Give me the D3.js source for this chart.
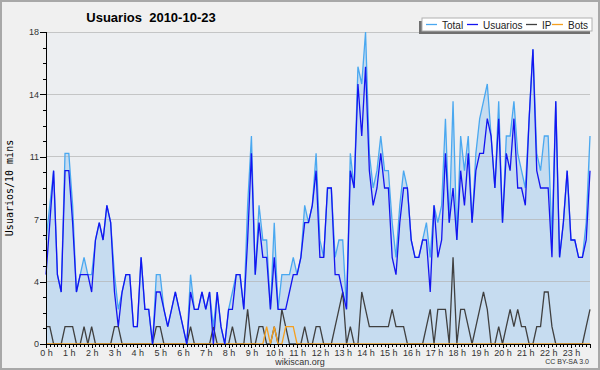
<!DOCTYPE html>
<html>
<head>
<meta charset="utf-8">
<script src="https://cdn.jsdelivr.net/npm/d3@7"></script>
<style>
    body { margin: 0; background: #f0f0f0; }
    svg { display: block; font-family: "Liberation Sans", Arial, sans-serif; }
    .axis path, .axis line { stroke: #000; shape-rendering: crispEdges; }
    .axis text { font-size: 9px; fill: #333; }
</style>
</head>
<body>
<svg width="600" height="370"></svg>
<script>
// one value every 10 minutes, 0h00 .. 23h50
const total    = [6,8,10,4,3,11,11,8,3,4,5,4,4,6,7,6,8,7,4,2,
                  3,4,4,1,1,5,2,2,0,4,4,2,1,2,3,2,1,0,4,2,
                  2,3,2,3,1,3,1,0,2,3,4,4,2,8,12,4,8,6,6,2,
                  7,2,4,4,4,5,4,5,8,7,8,11,6,5,9,9,5,6,6,2,
                  11,9,16,15,18,11,9,10,12,10,10,7,5,8,10,9,6,5,5,6,
                  7,5,8,7,8,13,7,14,6,12,10,12,7,11,13,14,15,12,9,14,
                  7,12,12,14,11,10,9,13,17,11,10,12,12,6,14,5,7,10,6,6,
                  5,5,7,12];
const usuarios = [4,7,10,4,3,10,10,7,3,4,4,4,3,6,7,6,8,7,3,1,
                  3,4,4,1,1,5,2,2,0,3,3,2,1,2,3,2,1,0,3,2,
                  2,3,2,3,0,3,1,0,2,2,4,4,2,6,11,4,7,5,5,2,
                  5,2,2,2,3,4,4,5,7,7,8,10,5,5,9,9,4,4,3,2,
                  10,9,15,12,16,10,8,9,11,9,9,5,4,7,9,9,6,5,5,6,
                  6,3,8,5,6,11,7,9,6,10,8,11,7,10,11,11,13,12,9,13,
                  7,11,10,13,9,9,8,13,17,10,9,9,9,5,14,5,7,10,6,6,
                  5,5,6,10];
const ip       = [1,1,0,0,0,1,1,1,0,0,1,0,1,0,0,0,0,0,1,1,
                  0,0,0,0,0,0,0,0,0,1,1,0,0,0,0,0,0,0,1,0,
                  0,0,0,0,1,0,0,0,0,1,0,0,0,2,0,0,1,1,0,0,
                  1,0,2,1,0,0,0,0,1,0,0,1,1,0,0,0,1,2,3,0,
                  1,0,0,3,2,1,1,1,1,1,1,2,1,1,1,0,0,0,0,0,
                  1,2,0,2,2,2,0,5,0,2,2,1,0,1,2,3,2,0,0,1,
                  0,1,2,1,2,1,1,0,0,1,1,3,3,1,0,0,0,0,0,0,
                  0,0,1,2];
const bots     = [0,0,0,0,0,0,0,0,0,0,0,0,0,0,0,0,0,0,0,0,
                  0,0,0,0,0,0,0,0,0,0,0,0,0,0,0,0,0,0,0,0,
                  0,0,0,0,0,0,0,0,0,0,0,0,0,0,0,0,0,0,1,0,
                  1,0,0,1,1,1,0,0,0,0,0,0,0,0,0,0,0,0,0,0,
                  0,0,0,0,0,0,0,0,0,0,0,0,0,0,0,0,0,0,0,0,
                  0,0,0,0,0,0,0,0,0,0,0,0,0,0,0,0,0,0,0,0,
                  0,0,0,0,0,0,0,0,0,0,0,0,0,0,0,0,0,0,0,0,
                  0,0,0,0];
const hours = d3.range(24);
const yTicks = [0, 3.6, 7.2, 10.8, 14.4, 18];

const series = [
    {name: "Total",    values: total,    color: "#4aa8f0"},
    {name: "Usuarios", values: usuarios, color: "#1414f0"},
    {name: "IP",       values: ip,       color: "#404040"},
    {name: "Bots",     values: bots,     color: "#f5a020"}
];

const svg = d3.select("svg");
const plotL = 46, plotR = 590, plotT = 32, plotB = 344;

const x = d3.scaleLinear().domain([0, total.length - 1]).range([plotL, plotR]);
const y = d3.scaleLinear().domain([0, 18]).range([plotB, plotT]);

// frame
svg.append("rect")
    .attr("x", 1).attr("y", 1).attr("width", 598).attr("height", 368)
    .attr("fill", "#f0f0f0").attr("stroke", "#a8a8a8").attr("stroke-width", 2);
svg.append("rect")
    .attr("x", plotL).attr("y", plotT).attr("width", plotR - plotL).attr("height", plotB - plotT)
    .attr("fill", "#eceef1");

// area under total
svg.append("path")
    .datum(total)
    .attr("fill", "#c6dcf0")
    .attr("d", d3.area().x((d, i) => x(i)).y0(y(0)).y1(d => y(d)));

// grid
svg.append("g").selectAll("line")
    .data(yTicks.slice(1))
    .enter().append("line")
    .attr("x1", plotL).attr("x2", plotR)
    .attr("y1", d => y(d)).attr("y2", d => y(d))
    .attr("stroke", "#b4b4b4").attr("stroke-opacity", 0.7)
    .attr("shape-rendering", "crispEdges");

// lines, back to front
const line = d3.line().x((d, i) => x(i)).y(d => y(d));
[series[2], series[3], series[0], series[1]].forEach(s => {
    svg.append("path")
        .datum(s.values)
        .attr("fill", "none")
        .attr("stroke", s.color)
        .attr("stroke-width", 1.3)
        .attr("d", line);
});

// axes
svg.append("g").attr("class", "axis")
    .attr("transform", `translate(${plotL},0)`)
    .call(d3.axisLeft(y).tickValues(d3.range(0, 18.01, 0.9)).tickSize(3).tickFormat(""));
svg.append("g").attr("class", "axis")
    .attr("transform", `translate(${plotL},0)`)
    .call(d3.axisLeft(y).tickValues(yTicks).tickSize(6).tickPadding(1)
        .tickFormat(d => Math.round(d)));

svg.append("g").attr("class", "axis")
    .attr("transform", `translate(0,${plotB})`)
    .call(d3.axisBottom(x).tickValues(d3.range(total.length)).tickSize(3).tickFormat(""));
svg.append("g").attr("class", "axis")
    .attr("transform", `translate(0,${plotB})`)
    .call(d3.axisBottom(x).tickValues(hours.map(h => h * 6)).tickSize(4).tickPadding(2)
        .tickFormat(d => (d / 6) + " h"));

svg.selectAll(".axis .domain").attr("stroke-width", 1.5);

// title
svg.append("text")
    .attr("x", 151).attr("y", 22)
    .attr("text-anchor", "middle")
    .attr("font-size", 13).attr("font-weight", "bold")
    .attr("xml:space", "preserve")
    .text("Usuarios  2010-10-23");

// y label
svg.append("text")
    .attr("transform", "translate(13,188) rotate(-90)")
    .attr("text-anchor", "middle")
    .attr("font-family", "'DejaVu Sans Mono', monospace")
    .attr("font-size", 10)
    .text("Usuarios/10 mins");

// legend
const lg = svg.append("g");
lg.append("rect").attr("x", 419).attr("y", 21).attr("width", 171).attr("height", 13).attr("fill", "#707070");
lg.append("rect").attr("x", 422).attr("y", 18).attr("width", 170).attr("height", 13)
    .attr("fill", "#fff").attr("stroke", "#b0b0b0");
const legendX = [426, 467, 526, 552];
series.forEach((s, i) => {
    lg.append("line")
        .attr("x1", legendX[i]).attr("x2", legendX[i] + 11)
        .attr("y1", 24.5).attr("y2", 24.5)
        .attr("stroke", s.color).attr("stroke-width", 1.3);
    lg.append("text")
        .attr("x", legendX[i] + 16).attr("y", 28.5)
        .attr("font-size", 10).attr("fill", "#222")
        .text(s.name);
});

// footer
svg.append("text")
    .attr("x", 300).attr("y", 365)
    .attr("text-anchor", "middle").attr("font-size", 9).attr("fill", "#333")
    .text("wikiscan.org");
svg.append("text")
    .attr("x", 589).attr("y", 364)
    .attr("text-anchor", "end").attr("font-size", 7).attr("fill", "#333")
    .text("CC BY-SA 3.0");
</script>
</body>
</html>
